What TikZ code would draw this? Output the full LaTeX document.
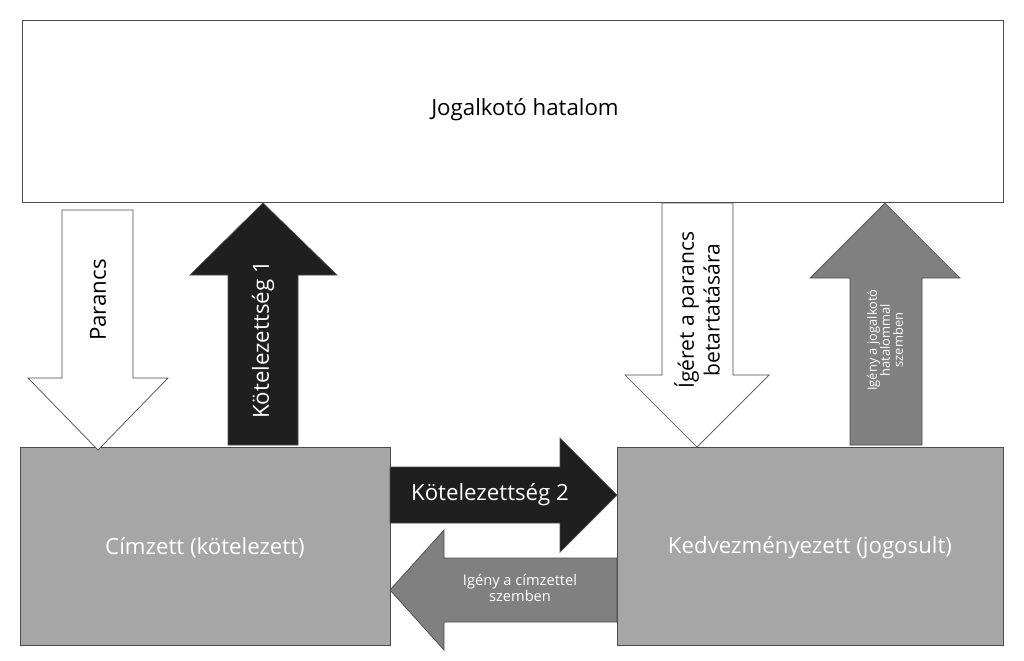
\documentclass[tikz,border=0pt]{standalone}
\usepackage{fontspec}
\setmainfont{Open Sans}
\begin{document}
\begin{tikzpicture}[x=0.03cm,y=-0.03cm,
  box/.style={draw=black!70,line width=0.6pt},
  arr/.style={draw=black!70,line width=0.6pt},
  big/.style={font=\fontsize{19}{22}\selectfont},
  small/.style={font=\fontsize{12.5}{14}\selectfont,align=center}]
\useasboundingbox (0,0) rectangle (1024,660);
\fill[white] (0,0) rectangle (1024,660);
% boxes
\draw[box,fill=white] (22,20) rectangle (1003,202);
\node[big] (top) at (525,110) {Jogalkotó hatalom};
\draw[box,fill=black!35] (20,447) rectangle (390,645);
\node[big,white] (cim) at (205,548) {Címzett (kötelezett)};
\draw[box,fill=black!35] (617,447) rectangle (1003,645);
\node[big,white] (ked) at (810,548) {Kedvezményezett (jogosult)};
% Parancs (down, white)
\draw[arr,fill=white] (62,210) -- (133,210) -- (133,378) -- (168,378) -- (98,450) -- (28,378) -- (62,378) -- cycle;
\node[big,rotate=90] (par) at (98,300) {Parancs};
% Kotelezettseg 1 (up, black)
\draw[arr,fill=black!88] (228,445) -- (298,445) -- (298,275) -- (337,275) -- (263,203) -- (190,275) -- (228,275) -- cycle;
\node[big,rotate=90,white] (k1) at (263,340) {Kötelezettség 1};
% Igeret (down, white)
\draw[arr,fill=white] (662,203) -- (733,203) -- (733,375) -- (769,375) -- (697,447) -- (625,375) -- (662,375) -- cycle;
\node[big,rotate=90,align=center,font=\fontsize{18}{22}\selectfont] (ig) at (697,310) {Ígéret a parancs\\betartatására};
% Igeny jogalkoto (up, gray)
\draw[arr,fill=black!50] (850,445) -- (922,445) -- (922,278) -- (960,278) -- (885,203) -- (810,278) -- (850,278) -- cycle;
\node[small,rotate=90,white,font=\fontsize{11}{11}\selectfont] (ij) at (885,340) {Igény a jogalkotó\\hatalommal\\szemben};
% Kotelezettseg 2 (right, black)
\draw[arr,fill=black!88] (390,467) -- (560,467) -- (560,438) -- (617,495) -- (560,552) -- (560,523) -- (390,523) -- cycle;
\node[big,white] (k2) at (490,495) {Kötelezettség 2};
% Igeny cimzettel (left, gray)
\draw[arr,fill=black!50] (617,558) -- (444,558) -- (444,530) -- (390,590) -- (444,650) -- (444,622) -- (617,622) -- cycle;
\node[small,white] (ic) at (520,588) {Igény a címzettel\\szemben};
\end{tikzpicture}
\end{document}
